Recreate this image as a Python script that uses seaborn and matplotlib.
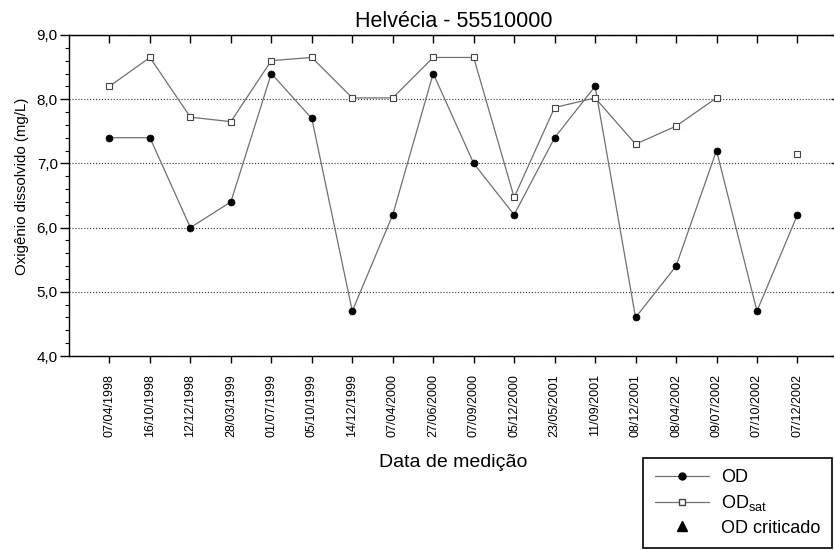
"""Dissolved oxygen time series for station Helvécia - 55510000."""

import matplotlib
matplotlib.use("Agg")
import matplotlib.pyplot as plt
import numpy as np
import pandas as pd
import seaborn as sns
from matplotlib.lines import Line2D
from matplotlib.ticker import FuncFormatter, MultipleLocator

dates = [
    "07/04/1998", "16/10/1998", "12/12/1998", "28/03/1999", "01/07/1999",
    "05/10/1999", "14/12/1999", "07/04/2000", "27/06/2000", "07/09/2000",
    "05/12/2000", "23/05/2001", "11/09/2001", "08/12/2001", "08/04/2002",
    "09/07/2002", "07/10/2002", "07/12/2002",
]
od = [7.4, 7.4, 6.0, 6.4, 8.4, 7.7, 4.7, 6.2, 8.4, 7.0,
      6.2, 7.4, 8.2, 4.6, 5.4, 7.2, 4.7, 6.2]
od_sat = [8.2, 8.65, 7.72, 7.65, 8.6, 8.65, 8.02, 8.02, 8.65, 8.65,
          6.47, 7.87, 8.02, 7.3, 7.58, 8.02, np.nan, 7.15]

LINE_GRAY = "#707070"

sns.set_style("ticks")
plt.rcParams["font.family"] = ["Liberation Sans", "DejaVu Sans"]
plt.rcParams.update({"text.color": "black", "axes.labelcolor": "black",
                     "xtick.color": "black", "ytick.color": "black"})

pos = np.arange(len(dates))
df = pd.DataFrame({"pos": pos, "od": od, "od_sat": od_sat})
# break the saturation line where a value is missing
df["seg"] = df["od_sat"].isna().cumsum()
sat = df.dropna(subset=["od_sat"])

fig = plt.figure(figsize=(8.34, 5.5), dpi=100)
ax = fig.add_axes([0.0827, 0.3527, 0.922, 0.5837])

sns.lineplot(data=df, x="pos", y="od", ax=ax, color=LINE_GRAY, linewidth=0.9,
             marker="o", markersize=5, markerfacecolor="black",
             markeredgecolor="black", markeredgewidth=0.5, legend=False, zorder=3)
sns.lineplot(data=sat, x="pos", y="od_sat", units="seg", estimator=None, ax=ax,
             color=LINE_GRAY, linewidth=0.9, marker="s", markersize=5,
             markerfacecolor="white", markeredgecolor="#444444",
             markeredgewidth=0.8, legend=False, zorder=3)

ax.set_xlim(-1, 18)
ax.set_ylim(4, 9)
ax.set_xticks(pos)
ax.set_xticklabels(dates, rotation=90, fontsize=9)
ax.yaxis.set_major_locator(MultipleLocator(1))
ax.yaxis.set_minor_locator(MultipleLocator(0.2))
ax.yaxis.set_major_formatter(FuncFormatter(lambda v, _: f"{v:.1f}".replace(".", ",")))
ax.tick_params(axis="y", which="major", direction="out", length=6.5, width=1,
               pad=1.5, labelsize=11)
ax.tick_params(axis="y", which="minor", direction="out", length=3, width=0.8)
ax.tick_params(axis="x", which="major", direction="out", length=5, width=1, pad=8)
ax.grid(axis="y", linestyle=":", color="#333333", linewidth=0.8)
for side in ["left", "right", "top", "bottom"]:
    ax.spines[side].set_visible(True)
    ax.spines[side].set_linewidth(1.0)
    ax.spines[side].set_color("black")

top = ax.secondary_xaxis("top")
top.set_xticks(pos)
top.tick_params(direction="in", length=6, width=1, labeltop=False)
right = ax.secondary_yaxis("right")
right.set_yticks([4, 5, 6, 7, 8, 9])
right.tick_params(direction="in", length=5, width=1, labelright=False)

ax.set_title("Helvécia - 55510000", fontsize=15.5, pad=6)
ax.set_xlabel("Data de medição", fontsize=14)
ax.set_ylabel("Oxigênio dissolvido (mg/L)", fontsize=10.8)
ax.xaxis.set_label_coords(0.5, -0.305)
ax.yaxis.set_label_coords(-0.052, 0.53)

handles = [
    Line2D([], [], color=LINE_GRAY, linewidth=0.9, marker="o", markersize=5,
           markerfacecolor="black", markeredgecolor="black"),
    Line2D([], [], color=LINE_GRAY, linewidth=0.9, marker="s", markersize=5,
           markerfacecolor="white", markeredgecolor="#444444"),
    Line2D([], [], linestyle="none", marker="^", markersize=7, color="black"),
]
leg = fig.legend(handles, ["OD", "OD$_{\\mathregular{sat}}$", "OD criticado"],
                 loc="lower right", bbox_to_anchor=(1.009, -0.0134), fontsize=13,
                 frameon=True, fancybox=False, framealpha=1, edgecolor="black",
                 handlelength=3.0, handletextpad=0.7, labelspacing=0.37,
                 borderpad=0.65)
leg.get_frame().set_linewidth(1.2)

fig.savefig("out.png", dpi=100)
